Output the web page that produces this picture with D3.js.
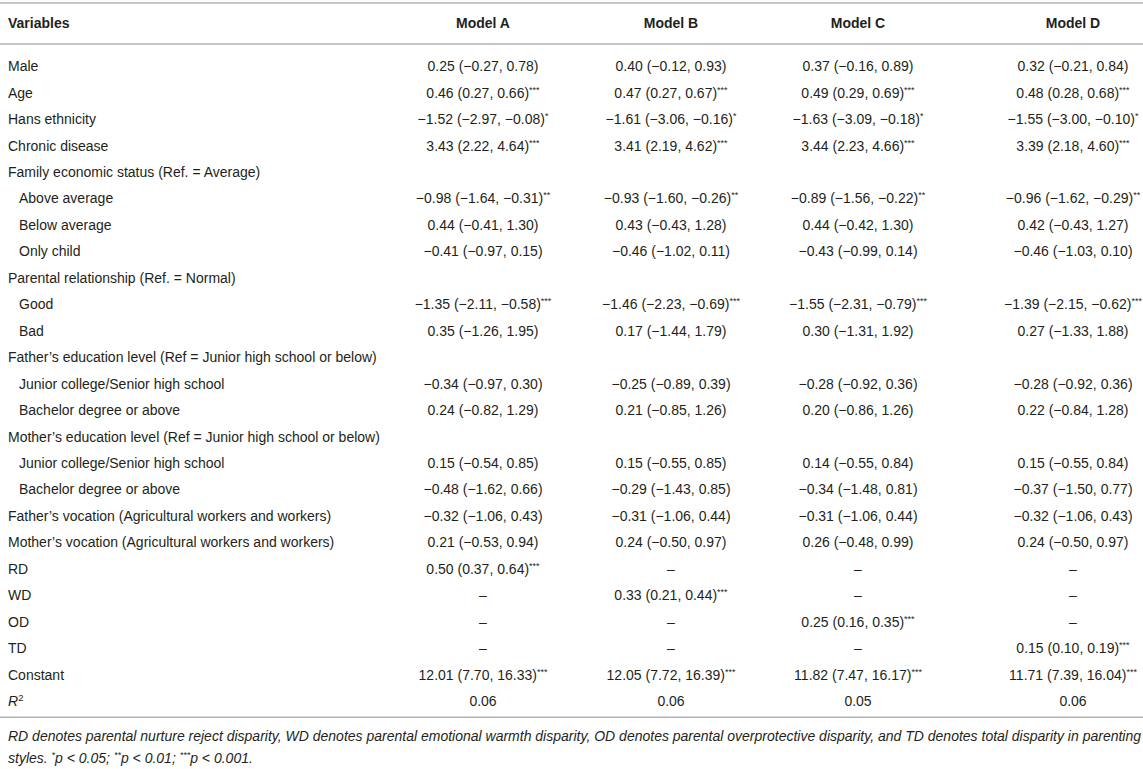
<!DOCTYPE html>
<html>
<head>
<meta charset="utf-8">
<script src="https://cdn.jsdelivr.net/npm/d3@7"></script>
<style>
body{margin:0;background:#fff;}
svg{display:block;}
</style>
</head>
<body>
<div id="chart"></div>
<script>
//Set Height and Width Vars;
const w=1143;
const h=769;

//Table data;
const models=["Model A","Model B","Model C","Model D"];

const variables=["Male","Age","Hans ethnicity","Chronic disease",
  "Family economic status (Ref. = Average)","Above average","Below average","Only child",
  "Parental relationship (Ref. = Normal)","Good","Bad",
  "Father’s education level (Ref = Junior high school or below)","Junior college/Senior high school","Bachelor degree or above",
  "Mother’s education level (Ref = Junior high school or below)","Junior college/Senior high school","Bachelor degree or above",
  "Father’s vocation (Agricultural workers and workers)","Mother’s vocation (Agricultural workers and workers)",
  "RD","WD","OD","TD","Constant","R2"];

//1 = indented sub category;
const indent=[0,0,0,0,0,1,1,1,0,1,1,0,1,1,0,1,1,0,0,0,0,0,0,0,0];

const modelA=["0.25 (−0.27, 0.78)","0.46 (0.27, 0.66)***","−1.52 (−2.97, −0.08)*","3.43 (2.22, 4.64)***",
  "","−0.98 (−1.64, −0.31)**","0.44 (−0.41, 1.30)","−0.41 (−0.97, 0.15)",
  "","−1.35 (−2.11, −0.58)***","0.35 (−1.26, 1.95)",
  "","−0.34 (−0.97, 0.30)","0.24 (−0.82, 1.29)",
  "","0.15 (−0.54, 0.85)","−0.48 (−1.62, 0.66)",
  "−0.32 (−1.06, 0.43)","0.21 (−0.53, 0.94)",
  "0.50 (0.37, 0.64)***","–","–","–","12.01 (7.70, 16.33)***","0.06"];

const modelB=["0.40 (−0.12, 0.93)","0.47 (0.27, 0.67)***","−1.61 (−3.06, −0.16)*","3.41 (2.19, 4.62)***",
  "","−0.93 (−1.60, −0.26)**","0.43 (−0.43, 1.28)","−0.46 (−1.02, 0.11)",
  "","−1.46 (−2.23, −0.69)***","0.17 (−1.44, 1.79)",
  "","−0.25 (−0.89, 0.39)","0.21 (−0.85, 1.26)",
  "","0.15 (−0.55, 0.85)","−0.29 (−1.43, 0.85)",
  "−0.31 (−1.06, 0.44)","0.24 (−0.50, 0.97)",
  "–","0.33 (0.21, 0.44)***","–","–","12.05 (7.72, 16.39)***","0.06"];

const modelC=["0.37 (−0.16, 0.89)","0.49 (0.29, 0.69)***","−1.63 (−3.09, −0.18)*","3.44 (2.23, 4.66)***",
  "","−0.89 (−1.56, −0.22)**","0.44 (−0.42, 1.30)","−0.43 (−0.99, 0.14)",
  "","−1.55 (−2.31, −0.79)***","0.30 (−1.31, 1.92)",
  "","−0.28 (−0.92, 0.36)","0.20 (−0.86, 1.26)",
  "","0.14 (−0.55, 0.84)","−0.34 (−1.48, 0.81)",
  "−0.31 (−1.06, 0.44)","0.26 (−0.48, 0.99)",
  "–","–","0.25 (0.16, 0.35)***","–","11.82 (7.47, 16.17)***","0.05"];

const modelD=["0.32 (−0.21, 0.84)","0.48 (0.28, 0.68)***","−1.55 (−3.00, −0.10)*","3.39 (2.18, 4.60)***",
  "","−0.96 (−1.62, −0.29)**","0.42 (−0.43, 1.27)","−0.46 (−1.03, 0.10)",
  "","−1.39 (−2.15, −0.62)***","0.27 (−1.33, 1.88)",
  "","−0.28 (−0.92, 0.36)","0.22 (−0.84, 1.28)",
  "","0.15 (−0.55, 0.84)","−0.37 (−1.50, 0.77)",
  "−0.32 (−1.06, 0.43)","0.24 (−0.50, 0.97)",
  "–","–","–","0.15 (0.10, 0.19)***","11.71 (7.39, 16.04)***","0.06"];

const footLines=[
  "RD denotes parental nurture reject disparity, WD denotes parental emotional warmth disparity, OD denotes parental overprotective disparity, and TD denotes total disparity in parenting",
  "styles. *p < 0.05; **p < 0.01; ***p < 0.001."];

const cols=[modelA,modelB,modelC,modelD];

//Styles;
const font="'Liberation Sans', Arial, Helvetica, sans-serif";
const textColor="#231f20";
const ruleColor="#b3b3b3";

//Initialize SVG;
const svg=d3.select("#chart")
  .append("svg")
    .attr("width",w)
    .attr("height",h)
    .attr("font-family",font)
    .attr("font-size",14)
    .attr("fill",textColor);

//Row Scale;
const yScale=d3.scaleBand()
  .domain(d3.range(variables.length))
  .range([53,53+variables.length*26.45]);

const rowY=i=>yScale(i)+yScale.bandwidth()/2+5;

//Column Scale;
const xScale=d3.scaleOrdinal()
  .domain(models)
  .range([483,671,858,1073]);

//Rules;
const rules=[3,44,yScale.range()[1]+3];
svg.append("g")
   .selectAll("line")
   .data(rules)
   .enter()
 .append("line")
   .attr("x1",0)
   .attr("x2",w)
   .attr("y1",d=>d)
   .attr("y2",d=>d)
   .attr("stroke",ruleColor)
   .attr("stroke-width",1.6);

//Header;
const head=svg.append("g").attr("font-weight","bold");
head.append("text")
  .attr("x",8)
  .attr("y",28)
  .text("Variables");
head.selectAll("text.model")
  .data(models)
  .enter()
 .append("text")
  .attr("class","model")
  .attr("x",d=>xScale(d))
  .attr("y",28)
  .attr("text-anchor","middle")
  .text(d=>d);

//Row Labels;
svg.append("g")
  .selectAll("text")
  .data(variables)
  .enter()
 .append("text")
  .attr("x",(d,i)=>indent[i]?19:8)
  .attr("y",(d,i)=>rowY(i))
  .each(function(d){
    const t=d3.select(this);
    if(d==="R2"){
      t.append("tspan").attr("font-style","italic").text("R");
      t.append("tspan").attr("font-size",9.5).attr("dy",-5).text("2");
    }else{
      t.text(d);
    }
  });

//Cells;
function addCell(sel,str){
  const m=str.match(/^(.*?)(\**)$/);
  sel.append("tspan").text(m[1]);
  if(m[2]){
    sel.append("tspan").attr("font-size",9).attr("dy",-5).text(m[2]);
  }
}

models.forEach(function(mod,j){
  const cells=cols[j].map(function(v,i){return {v:v,row:i};})
                     .filter(function(d){return d.v!=="";});
  svg.append("g")
   .selectAll("text")
     .data(cells)
     .enter()
   .append("text")
     .attr("x",xScale(mod))
     .attr("y",d=>rowY(d.row))
     .attr("text-anchor","middle")
     .each(function(d){addCell(d3.select(this),d.v);});
});

//Footnote;
const fy=yScale.range()[1]+27;
svg.append("g")
   .attr("font-style","italic")
 .selectAll("text")
   .data(footLines)
   .enter()
 .append("text")
   .attr("x",8)
   .attr("y",(d,i)=>fy+i*22)
   .each(function(d){
     const t=d3.select(this);
     let sup=false;
     d.split(/(\*+)/).forEach(function(p){
       if(p==="") return;
       if(p[0]==="*"){
         t.append("tspan").attr("font-size",9).attr("dy",-5).text(p);
         sup=true;
       }else{
         t.append("tspan").attr("dy",sup?5:null).text(p);
         sup=false;
       }
     });
   });
</script>
</body>
</html>
